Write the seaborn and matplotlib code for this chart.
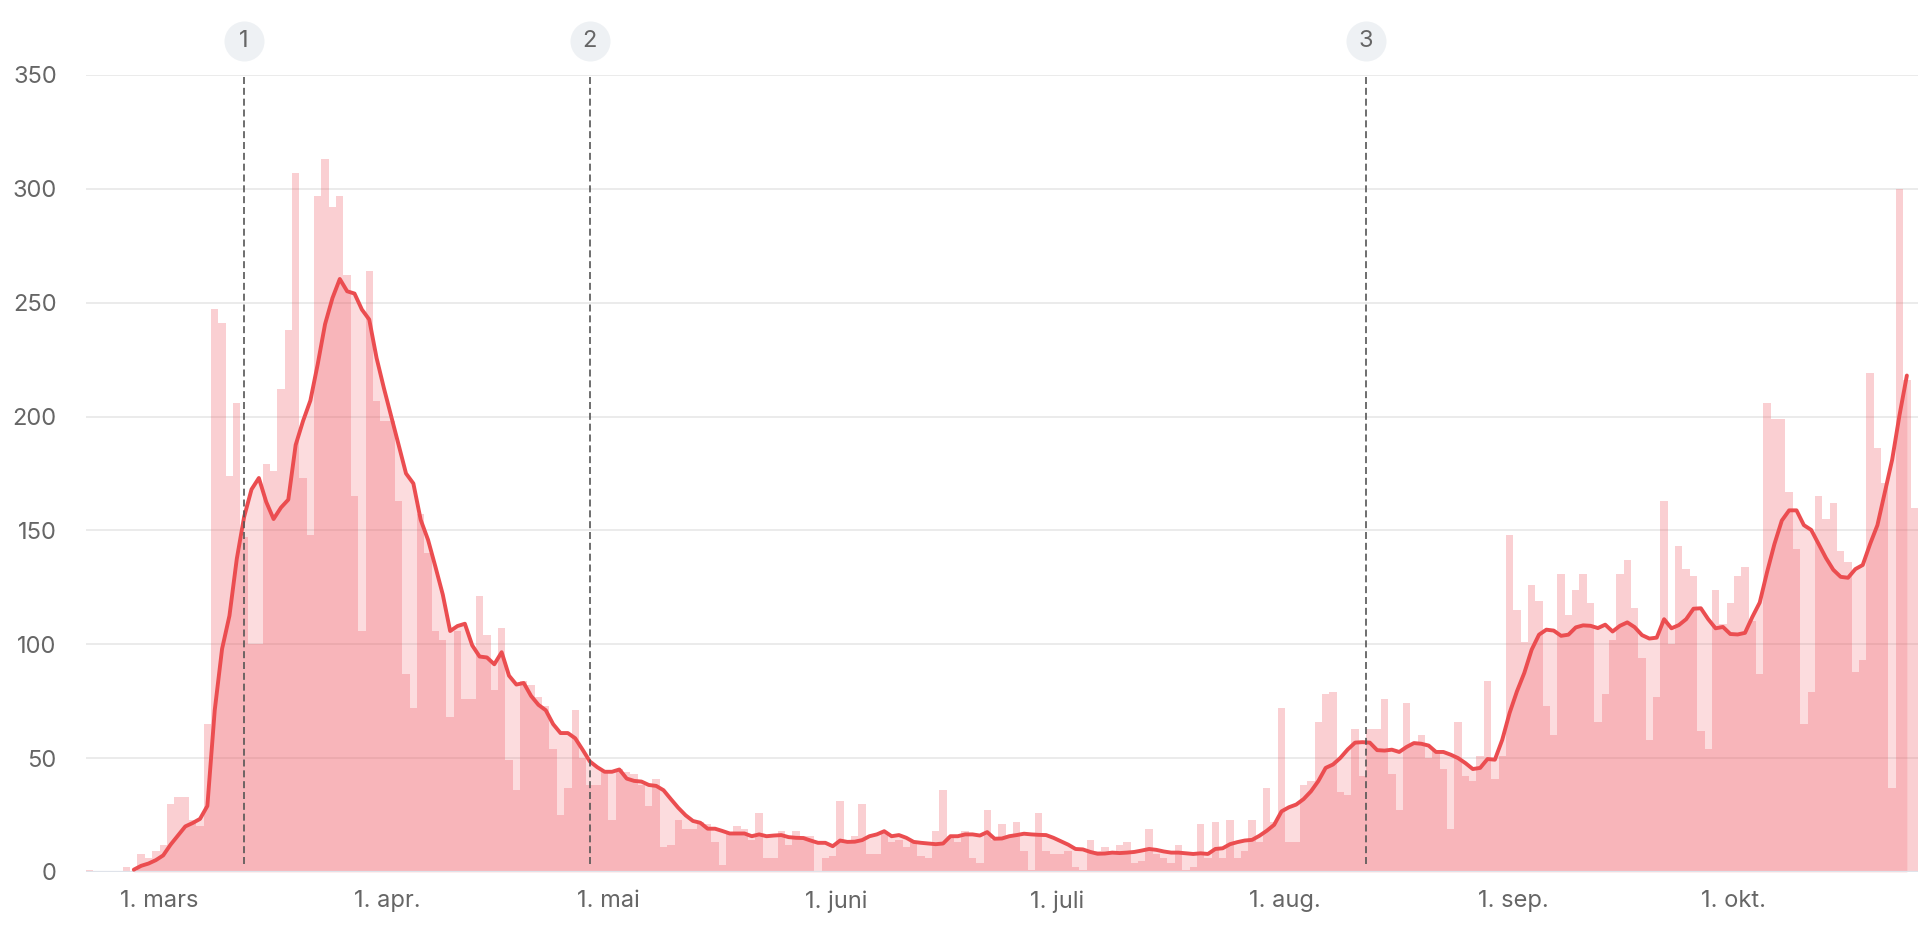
import numpy as np
import pandas as pd
import matplotlib
matplotlib.use("Agg")
import matplotlib.pyplot as plt
import seaborn as sns

# Daily values (one bar per day, starting 20 Feb 2020)
start_date = "2020-02-20"
daily_cases = [
    1, 0, 0, 0, 0, 2, 0, 8, 6, 9,
    12, 30, 33, 33, 23, 20, 65, 247, 241, 174,
    206, 147, 100, 100, 179, 176, 212, 238, 307, 173,
    148, 297, 313, 292, 297, 262, 165, 106, 264, 207,
    198, 198, 163, 87, 72, 157, 140, 106, 102, 68,
    106, 76, 76, 121, 104, 80, 107, 49, 36, 84,
    82, 77, 73, 54, 25, 37, 71, 50, 38, 38,
    44, 23, 45, 44, 43, 38, 29, 41, 11, 12,
    23, 19, 19, 22, 21, 13, 3, 17, 20, 19,
    14, 26, 6, 6, 18, 12, 18, 16, 16, 0,
    6, 7, 31, 14, 16, 30, 8, 8, 17, 13,
    14, 11, 13, 7, 6, 18, 36, 16, 13, 18,
    6, 4, 27, 14, 21, 16, 22, 9, 1, 26,
    9, 8, 8, 9, 2, 1, 14, 9, 11, 8,
    12, 13, 4, 5, 19, 8, 6, 4, 12, 1,
    2, 21, 6, 22, 6, 23, 6, 9, 23, 13,
    37, 22, 72, 13, 13, 38, 40, 66, 78, 79,
    35, 34, 63, 42, 63, 63, 76, 43, 27, 74,
    56, 60, 50, 53, 45, 19, 66, 42, 40, 51,
    84, 41, 51, 148, 115, 101, 126, 119, 73, 60,
    131, 113, 124, 131, 118, 66, 78, 102, 131, 137,
    116, 94, 58, 77, 163, 100, 143, 133, 130, 62,
    54, 124, 109, 118, 130, 134, 110, 87, 206, 199,
    199, 167, 142, 65, 79, 165, 155, 162, 141, 136,
    88, 93, 219, 186, 171, 37, 300, 216, 160,
]

# Smoothed average, one point per day at midday (starting 26 Feb 2020)
avg_start = "2020-02-26 12:00"
rolling_avg = [
    1, 2.7, 3.7, 5.2,
    7.3, 12, 16, 20, 21.5, 23.3, 29, 71, 98, 112.5,
    137.5, 156, 168, 173, 162.5, 155, 160, 163.5, 187.5, 198,
    207, 223, 240.6, 252, 260.4, 255, 254, 247, 242.6, 225.7,
    212.4, 200, 187.5, 175, 170.6, 154.6, 145.8, 134, 121.8, 105.8,
    108, 109, 99.5, 94.6, 94.2, 91.2, 96.5, 86.2, 82.3, 83,
    77.3, 73.4, 71, 64.9, 61, 61, 58.7, 53.7, 48.5, 46,
    44, 44, 45, 41, 40, 39.7, 38.2, 37.8, 35.9, 32,
    28.2, 24.9, 22.4, 21.6, 19, 19, 18, 16.9, 16.9, 16.9,
    15.7, 16.5, 15.7, 16, 16.2, 15.3, 15, 14.9, 13.8, 12.8,
    12.8, 11.3, 13.8, 13.2, 13.3, 14, 15.7, 16.5, 17.9, 15.7,
    16.2, 15, 13.2, 12.8, 12.5, 12.2, 12.5, 15.7, 15.7, 16.5,
    16.5, 16, 17.5, 14.6, 14.7, 15.7, 16.2, 16.8, 16.5, 16.3,
    16.2, 15, 13.5, 12, 10.1, 9.9, 8.8, 8, 8.1, 8.5,
    8.3, 8.5, 8.8, 9.4, 10.1, 9.7, 9, 8.5, 8.5, 8.2,
    7.9, 8.2, 7.9, 10.1, 10.4, 12.2, 13.1, 13.8, 14.1, 15.9,
    18.1, 20.7, 26.6, 28.4, 29.6, 32, 35.4, 39.9, 45.7, 47.2,
    50.1, 53.8, 56.8, 57, 56.8, 53.5, 53.3, 53.7, 52.7, 54.9,
    56.6, 56.3, 55.5, 52.7, 52.7, 51.5, 50, 47.8, 45.2, 45.7,
    49.6, 49.3, 58, 69.8, 79.3, 87.4, 97.6, 104.2, 106.4, 106,
    103.7, 104.2, 107.4, 108.3, 108.1, 107.1, 108.6, 105.6, 108.1, 109.6,
    107.5, 104, 102.5, 102.9, 111, 107, 108.4, 111, 115.6, 115.8,
    111, 107, 107.6, 104.5, 104.3, 105, 112, 118.3, 131.7, 144,
    154.3, 158.8, 158.8, 152.3, 150.2, 144, 137.9, 132.7, 129.6, 129.2,
    133, 134.8, 144, 152.3, 166.7, 181, 200.6, 218,
]

event_dates = ["2020-03-12 12:00", "2020-04-28 12:00", "2020-08-12 00:00"]
event_labels = ["1", "2", "3"]

month_ticks = ["2020-03-01", "2020-04-01", "2020-05-01", "2020-06-01",
               "2020-07-01", "2020-08-01", "2020-09-01", "2020-10-01"]
month_labels = ["1. mars", "1. apr.", "1. mai", "1. juni",
                "1. juli", "1. aug.", "1. sep.", "1. okt."]
y_ticks = [0, 50, 100, 150, 200, 250, 300, 350]

RED = "#f0505a"
LINE_RED = "#eb4d50"
GREY_TEXT = "#666666"

bar_dates = pd.date_range(start_date, periods=len(daily_cases), freq="D")
avg_dates = pd.date_range(avg_start, periods=len(rolling_avg), freq="D")
df_bars = pd.DataFrame({"date": bar_dates, "cases": daily_cases})
df_avg = pd.DataFrame({"date": avg_dates, "avg": rolling_avg})

sns.set_theme(style="white")
plt.rcParams["font.family"] = ["Inter", "DejaVu Sans"]

fig = plt.figure(figsize=(19.32, 9.38), dpi=100)
ax = fig.add_axes([0.0445, 0.0704, 0.9482, 0.8497])

# bars (each day from 00:00 to 24:00) and the area under the average
ax.bar(df_bars["date"], df_bars["cases"], width=1.0, align="edge", color=RED,
       alpha=0.27, linewidth=0, antialiased=False, zorder=2)
ax.fill_between(df_avg["date"], 0, df_avg["avg"], color=RED, alpha=0.2,
                linewidth=0, zorder=2)
sns.lineplot(data=df_avg, x="date", y="avg", ax=ax, color=LINE_RED,
             linewidth=2.8, zorder=4)

# event markers
trans = ax.get_xaxis_transform()
for d, lab in zip(event_dates, event_labels):
    xd = pd.Timestamp(d)
    ax.axvline(xd, ymin=0.01, ymax=1.0, color="#555555", linewidth=1.2,
               dashes=(4.2, 2.3), zorder=5)
    ax.scatter([xd], [1.043], s=830, color="#eef1f4", transform=trans,
               clip_on=False, zorder=6, linewidths=0)
    ax.text(xd, 1.043, lab, transform=trans, ha="center", va="center",
            fontsize=17, color=GREY_TEXT, clip_on=False, zorder=7)

# axes styling
ax.set_xlim(bar_dates[0], bar_dates[-1] + pd.Timedelta(days=1))
ax.set_ylim(0, 350)
ax.set_yticks(y_ticks)
ax.set_xticks([pd.Timestamp(t) for t in month_ticks])
ax.set_xticklabels(month_labels)
ax.set_xlabel("")
ax.set_ylabel("")
ax.set_axisbelow(True)
ax.yaxis.grid(True, color="#e6e6e6", linewidth=1.1)
ax.xaxis.grid(False)
ax.axhline(0, color="#dfe3ea", linewidth=1.6, zorder=3)
for s in ax.spines.values():
    s.set_visible(False)
ax.tick_params(axis="both", length=0, labelsize=17, labelcolor=GREY_TEXT)
ax.tick_params(axis="y", pad=21)
ax.tick_params(axis="x", pad=13)

fig.savefig("out.png", dpi=100)
